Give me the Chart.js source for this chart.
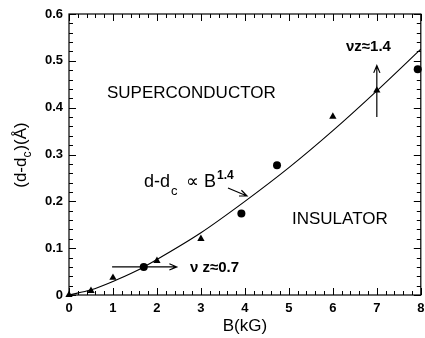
<!DOCTYPE html>
<html>
<head>
<meta charset="utf-8">
<script src="https://cdn.jsdelivr.net/npm/chart.js@4.4.1/dist/chart.umd.min.js"></script>
<style>
  html, body { margin: 0; padding: 0; background: #fff; }
  #wrap { width: 425px; height: 338px; }
</style>
</head>
<body>
<div id="wrap"><canvas id="chart" width="425" height="338"></canvas></div>
<script>
// --- data ---
const triB = [0, 0.5, 1, 2, 3, 6, 7];
const triV = [0, 0.009, 0.037, 0.073, 0.12, 0.381, 0.437];
const circB = [1.7, 3.92, 4.73, 7.93];
const circV = [0.06, 0.174, 0.277, 0.482];
// fit line d-dc ~ B^1.4, as drawn
const fitB = [0, 0.5, 1, 1.5, 2, 3, 4, 5, 6, 7, 8];
const fitV = [0, 0.011, 0.029, 0.05, 0.076, 0.133, 0.2, 0.272, 0.351, 0.436, 0.525];
// axis ticks
const xTicks = [0, 1, 2, 3, 4, 5, 6, 7, 8];
const yTicks = [0, 0.1, 0.2, 0.3, 0.4, 0.5, 0.6];

const FONT = '"Liberation Sans", Arial, Helvetica, sans-serif';

const toXY = (xs, ys) => xs.map((x, i) => ({ x: x, y: ys[i] }));

// arrow with open head
function arrow(ctx, x1, y1, x2, y2) {
    const a = Math.atan2(y2 - y1, x2 - x1);
    const h = 8;
    ctx.beginPath();
    ctx.moveTo(x1, y1);
    ctx.lineTo(x2, y2);
    ctx.moveTo(x2 - h * Math.cos(a - 0.4), y2 - h * Math.sin(a - 0.4));
    ctx.lineTo(x2, y2);
    ctx.lineTo(x2 - h * Math.cos(a + 0.4), y2 - h * Math.sin(a + 0.4));
    ctx.stroke();
}

const decorPlugin = {
    id: 'decor',
    // frame and inward ticks under the marks
    beforeDatasetsDraw(chart) {
        const ctx = chart.ctx;
        const a = chart.chartArea;
        const xs = chart.scales.x, ys = chart.scales.y;
        ctx.save();
        ctx.strokeStyle = '#000';
        ctx.lineWidth = 1.2;
        ctx.strokeRect(a.left, a.top, a.right - a.left, a.bottom - a.top);

        ctx.lineWidth = 1;
        ctx.beginPath();
        for (let i = 0; i <= 40; i++) {           // x minor every 0.2
            const px = Math.round(xs.getPixelForValue(i * 0.2)) + 0.5;
            const len = (i % 5 === 0) ? 7 : 4;
            ctx.moveTo(px, a.bottom); ctx.lineTo(px, a.bottom - len);
            ctx.moveTo(px, a.top); ctx.lineTo(px, a.top + len);
        }
        for (let i = 0; i <= 30; i++) {           // y minor every 0.02
            const py = Math.round(ys.getPixelForValue(i * 0.02)) + 0.5;
            const len = (i % 5 === 0) ? 7 : 4;
            ctx.moveTo(a.left, py); ctx.lineTo(a.left + len, py);
            ctx.moveTo(a.right, py); ctx.lineTo(a.right - len, py);
        }
        ctx.stroke();
        ctx.restore();
    },
    afterDatasetsDraw(chart) {
        const ctx = chart.ctx;
        const a = chart.chartArea;
        const xs = chart.scales.x, ys = chart.scales.y;
        ctx.save();
        ctx.strokeStyle = '#000';
        ctx.fillStyle = '#000';

        // region labels
        ctx.textBaseline = 'alphabetic';
        ctx.textAlign = 'left';
        ctx.font = '17px ' + FONT;
        ctx.fillText('SUPERCONDUCTOR', 107, 98);
        ctx.fillText('INSULATOR', 292, 224);

        // d-dc ∝ B^1.4
        let x = 144;
        ctx.font = '18px ' + FONT;
        ctx.fillText('d-d', x, 187); x += ctx.measureText('d-d').width;
        ctx.font = '13px ' + FONT;
        ctx.fillText('c', x + 1, 195);
        ctx.font = '18px ' + FONT;
        ctx.fillText('\u221D', 186, 187);
        ctx.fillText('B', 204, 187); x = 204 + ctx.measureText('B').width;
        ctx.font = 'bold 12px ' + FONT;
        ctx.fillText('1.4', x + 1, 179);

        // exponent labels
        ctx.font = 'bold 15px ' + FONT;
        ctx.fillText('\u03BDz\u22481.4', 346, 51);
        ctx.fillText('\u03BD z\u22480.7', 190, 272);

        // arrows
        ctx.lineWidth = 1.2;
        arrow(ctx, xs.getPixelForValue(0.98), ys.getPixelForValue(0.06),
                   xs.getPixelForValue(2.45), ys.getPixelForValue(0.06));
        arrow(ctx, xs.getPixelForValue(7.0), ys.getPixelForValue(0.38),
                   xs.getPixelForValue(7.0), ys.getPixelForValue(0.49));
        arrow(ctx, 228, 188, 247, 196);

        // axis titles
        ctx.font = '17px ' + FONT;
        ctx.textAlign = 'center';
        ctx.fillText('B(kG)', (a.left + a.right) / 2, 331);

        ctx.translate(20, 155);
        ctx.rotate(-Math.PI / 2);
        ctx.textAlign = 'left';
        const p1 = '(d-d', p2 = ')(\u00C5)';
        ctx.font = '17px ' + FONT;
        const w1 = ctx.measureText(p1).width, w2 = ctx.measureText(p2).width;
        ctx.font = '12px ' + FONT;
        const wc = ctx.measureText('c').width;
        const total = w1 + wc + w2 + 1;
        let tx = -total / 2;
        ctx.font = '17px ' + FONT;
        ctx.fillText(p1, tx, 6); tx += w1;
        ctx.font = '12px ' + FONT;
        ctx.fillText('c', tx, 11); tx += wc + 1;
        ctx.font = '17px ' + FONT;
        ctx.fillText(p2, tx, 6);
        ctx.restore();
    }
};

new Chart(document.getElementById('chart'), {
    type: 'line',
    data: {
        datasets: [
            {
                data: toXY(fitB, fitV),
                borderColor: '#000',
                borderWidth: 1.1,
                pointRadius: 0,
                cubicInterpolationMode: 'monotone',
                fill: false,
                clip: false
            },
            {
                data: toXY(triB, triV),
                showLine: false,
                pointStyle: 'triangle',
                pointRadius: 4.2,
                backgroundColor: '#000',
                borderColor: '#000',
                borderWidth: 0,
                clip: false
            },
            {
                data: toXY(circB, circV),
                showLine: false,
                pointStyle: 'circle',
                pointRadius: 4,
                backgroundColor: '#000',
                borderColor: '#000',
                borderWidth: 0,
                clip: false
            }
        ]
    },
    plugins: [decorPlugin],
    options: {
        responsive: false,
        animation: false,
        parsing: true,
        layout: { padding: { top: 14, right: 4, left: 0, bottom: 0 } },
        plugins: { legend: { display: false }, tooltip: { enabled: false } },
        scales: {
            x: {
                type: 'linear',
                min: 0, max: 8,
                afterBuildTicks: s => { s.ticks = xTicks.map(v => ({ value: v })); },
                afterFit: s => { s.height = 43; s.paddingLeft = 0; s.paddingRight = 0; },
                grid: { display: false, drawTicks: false, tickLength: 0 },
                border: { display: false },
                ticks: {
                    color: '#000',
                    padding: 6,
                    maxRotation: 0,
                    font: { family: FONT, size: 13, weight: 'bold' }
                }
            },
            y: {
                type: 'linear',
                min: 0, max: 0.6,
                afterBuildTicks: s => { s.ticks = yTicks.map(v => ({ value: v })); },
                afterFit: s => { s.width = 69; s.paddingTop = 0; s.paddingBottom = 0; },
                grid: { display: false, drawTicks: false, tickLength: 0 },
                border: { display: false },
                ticks: {
                    color: '#000',
                    padding: 6,
                    font: { family: FONT, size: 13, weight: 'bold' },
                    callback: v => String(+v.toFixed(1))
                }
            }
        }
    }
});
</script>
</body>
</html>
